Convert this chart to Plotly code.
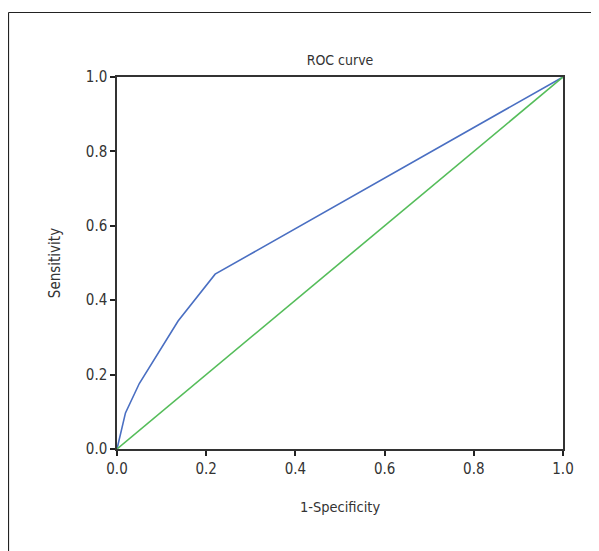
import plotly.graph_objects as go

fpr = [0.0, 0.019, 0.05, 0.137, 0.22, 1.0]
tpr = [0.0, 0.097, 0.176, 0.344, 0.47, 1.0]
ref_x = [0.0, 1.0]
ref_y = [0.0, 1.0]
tick_vals = [0.0, 0.2, 0.4, 0.6, 0.8, 1.0]
tick_text = ["0.0", "0.2", "0.4", "0.6", "0.8", "1.0"]

FONT = "DejaVu Sans Condensed, Liberation Sans Narrow, Arial Narrow, sans-serif"
TXT = "#333333"

W, H = 591, 543
L, R, T, B = 109, 36, 69, 102
PW, PH = W - L - R, H - T - B

fig = go.Figure()
fig.add_trace(go.Scatter(x=fpr, y=tpr, mode="lines",
                         line=dict(color="#4a6fc2", width=1.6), showlegend=False))
fig.add_trace(go.Scatter(x=ref_x, y=ref_y, mode="lines",
                         line=dict(color="#55bd5a", width=1.6), showlegend=False))

axis_common = dict(
    range=[0, 1], tickvals=tick_vals, ticktext=tick_text,
    showgrid=False, zeroline=False, showline=True, linecolor="#333333",
    linewidth=1.5, mirror=True, ticks="outside", ticklen=5, tickwidth=1.5,
    tickcolor="#222222", tickfont=dict(family=FONT, size=15, color=TXT),
)

fx = lambda px: (px - L) / PW
fy = lambda py: (H - B - py) / PH

fig.update_layout(
    width=W, height=H,
    margin=dict(l=L, r=R, t=T, b=B),
    paper_bgcolor="white", plot_bgcolor="white",
    title=dict(text="ROC curve", xref="paper", x=0.5, xanchor="center",
               y=1 - 52 / H, yanchor="middle",
               font=dict(family=FONT, size=14, color=TXT)),
    xaxis=dict(**axis_common, title=dict(text="1-Specificity", standoff=25,
                                         font=dict(family=FONT, size=14.5, color=TXT))),
    yaxis=dict(**axis_common, title=dict(text="Sensitivity", standoff=22,
                                         font=dict(family=FONT, size=15, color=TXT))),
    font=dict(family=FONT),
    shapes=[
        dict(type="line", xref="paper", yref="paper",
             x0=fx(0.5), x1=fx(W + 20), y0=fy(4.5), y1=fy(4.5),
             line=dict(color="#222222", width=1.2)),
        dict(type="line", xref="paper", yref="paper",
             x0=fx(0.5), x1=fx(0.5), y0=fy(4.5), y1=fy(H + 20),
             line=dict(color="#222222", width=1.2)),
    ],
)

fig.write_html("out.html")
